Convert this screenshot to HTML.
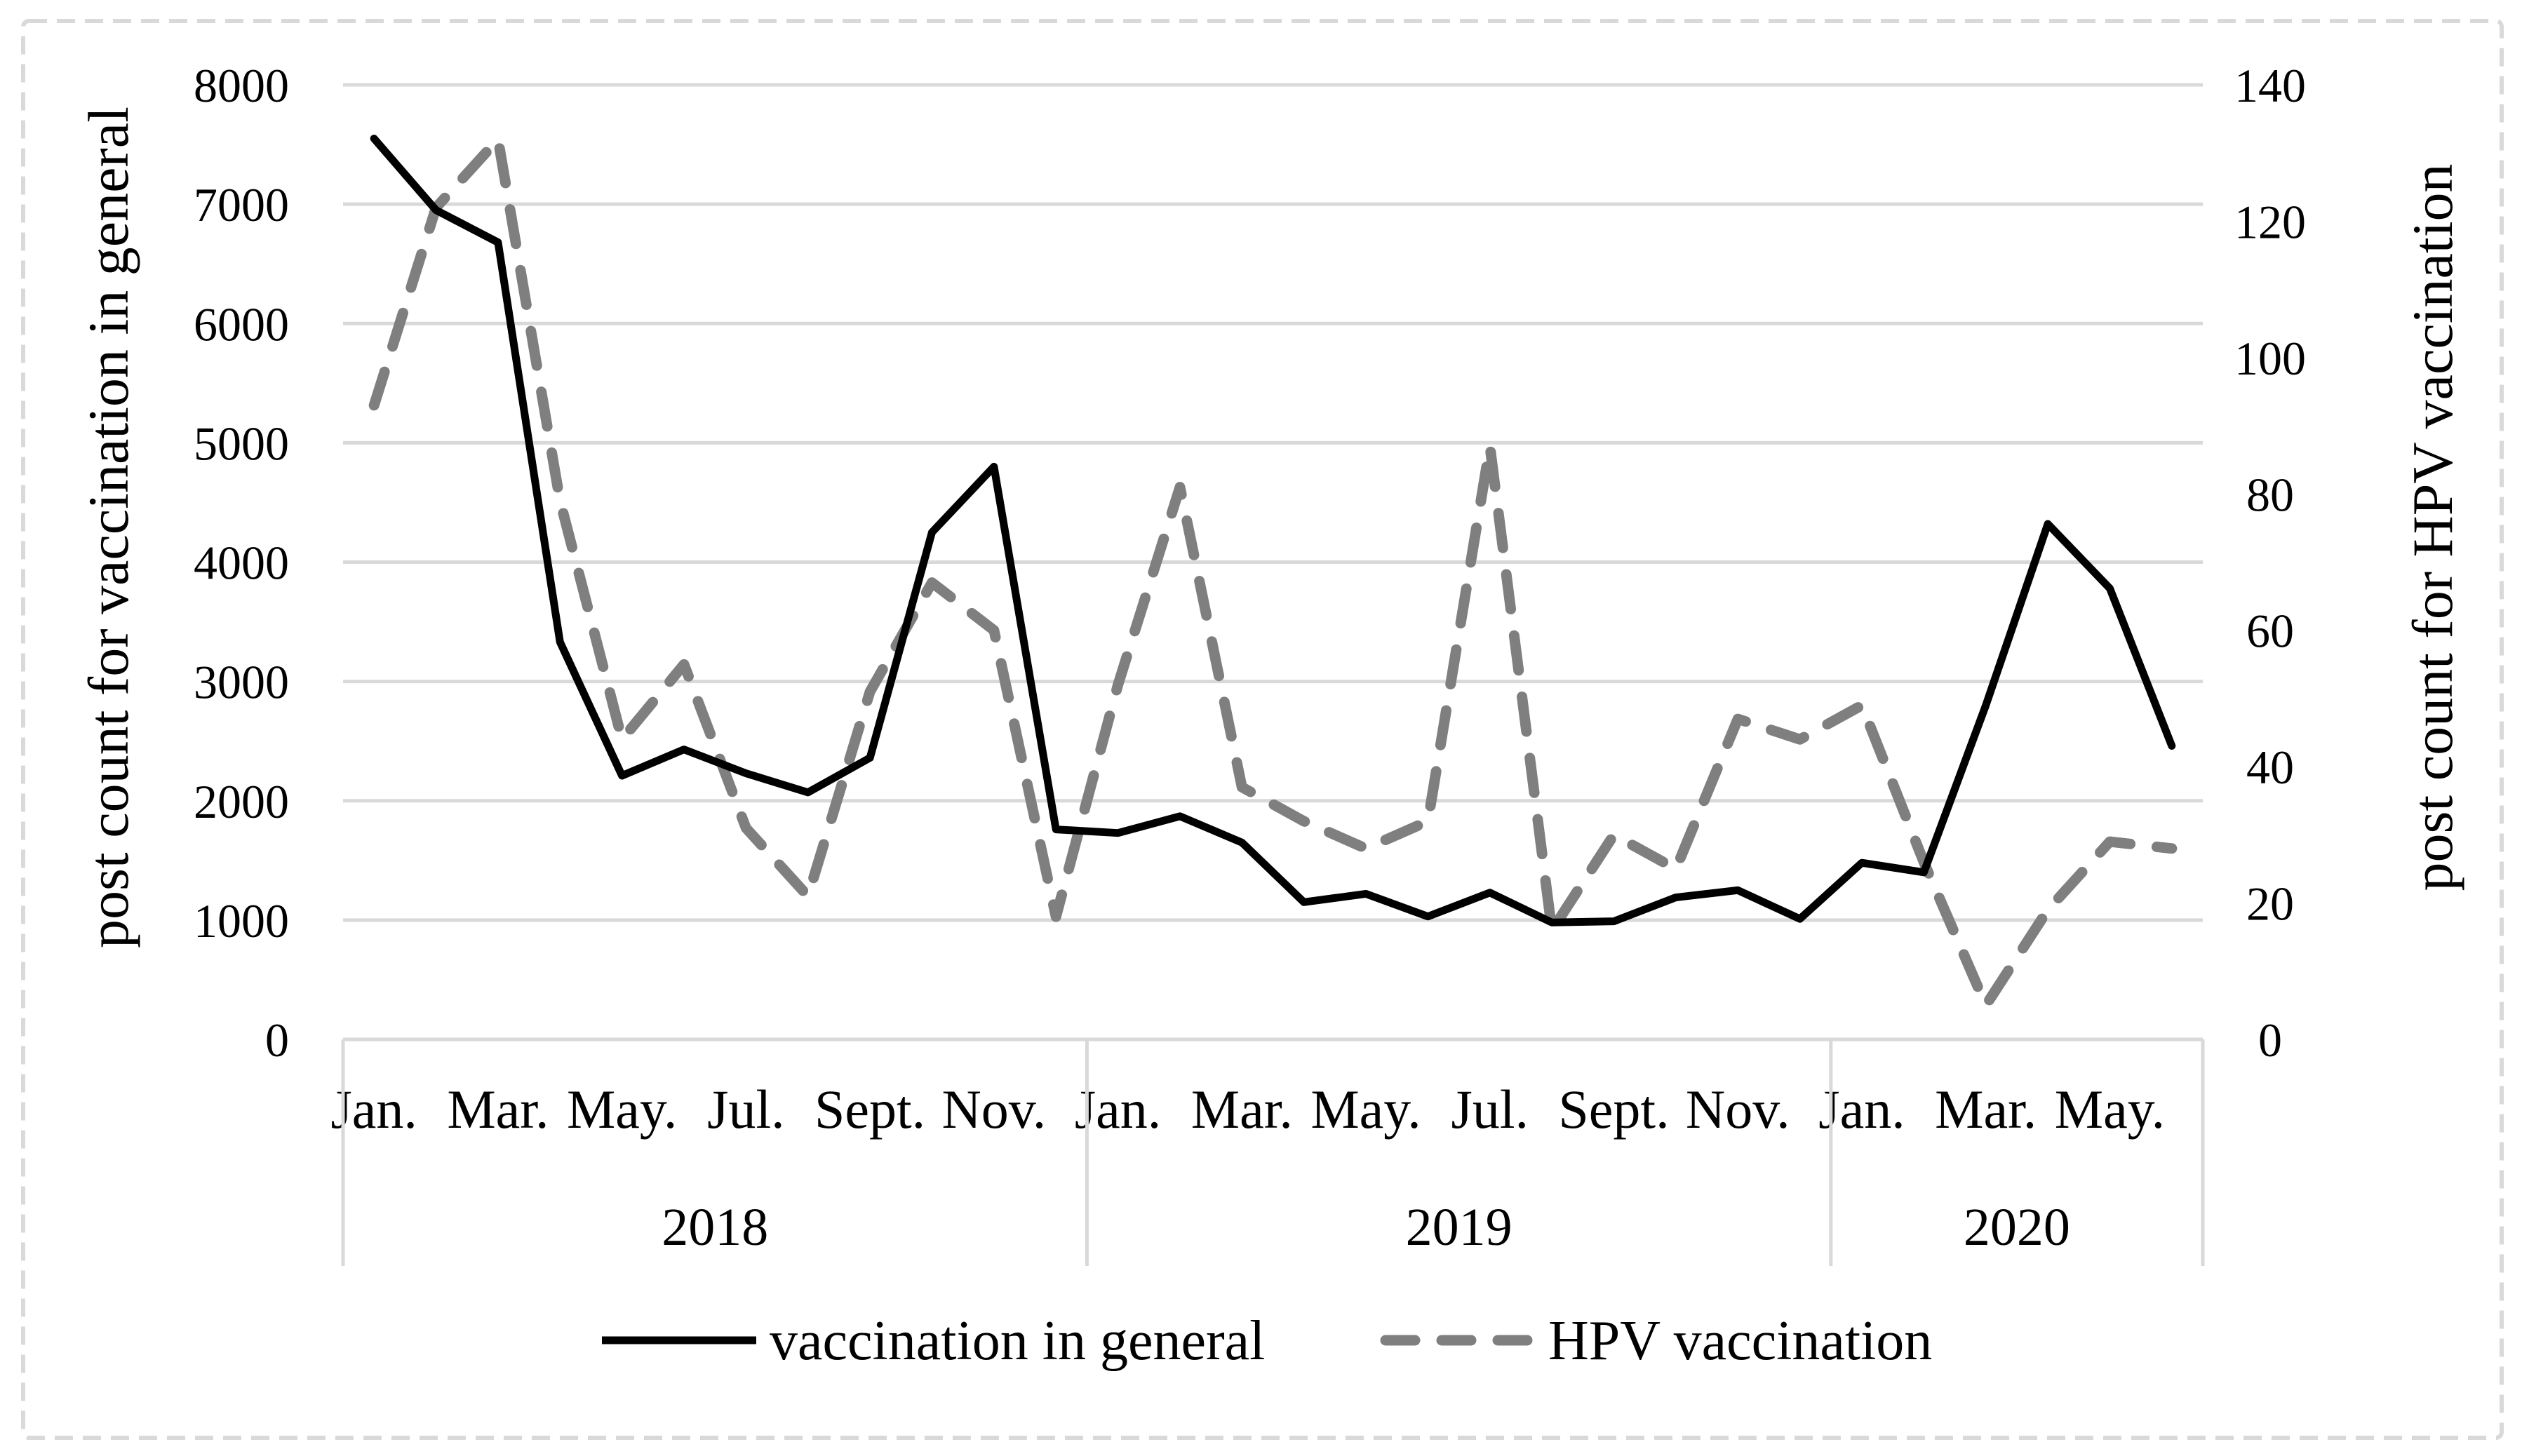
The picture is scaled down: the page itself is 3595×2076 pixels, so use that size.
<!DOCTYPE html>
<html><head><meta charset="utf-8">
<style>
html,body{margin:0;padding:0;background:#fff;}
svg{display:block;font-family:"Liberation Serif",serif;}
</style></head>
<body>
<svg id="chart" width="3595" height="2076" viewBox="0 0 3595 2076" xmlns="http://www.w3.org/2000/svg">
<rect x="33" y="30" width="3533" height="2020" rx="8" fill="none" stroke="#d9d9d9" stroke-width="6" stroke-dasharray="26,14"/>
<g id="grid"></g>
<g id="yleft"></g>
<g id="yright"></g>
<g id="xaxis"></g>
<g id="series"></g>
<text transform="translate(182,752) rotate(-90)" text-anchor="middle" font-size="82">post count for vaccination in general</text>
<text transform="translate(3495,752) rotate(-90)" text-anchor="middle" font-size="82">post count for HPV vaccination</text>
<g>
<g>
<line x1="858" y1="1911" x2="1078" y2="1911" stroke="#000" stroke-width="11"/>
<text x="1097" y="1938" font-size="80">vaccination in general</text>
</g>
<g>
<line x1="1975" y1="1911" x2="2180" y2="1911" stroke="#7f7f7f" stroke-width="15" stroke-linecap="round" stroke-dasharray="42,38"/>
<text x="2207" y="1938" font-size="80">HPV vaccination</text>
</g>
</g>
</svg>
<script>
const months = ["Jan.","Feb.","Mar.","Apr.","May.","Jun.","Jul.","Aug.","Sept.","Oct.","Nov.","Dec.","Jan.","Feb.","Mar.","Apr.","May.","Jun.","Jul.","Aug.","Sept.","Oct.","Nov.","Dec.","Jan.","Feb.","Mar.","Apr.","May.","Jun."];
const years = ["2018","2019","2020"];
const yearCounts = [12,12,6];
const generalValues = [7550,6950,6680,3330,2210,2430,2230,2070,2360,4250,4800,1760,1730,1870,1650,1150,1220,1030,1230,980,990,1190,1250,1010,1480,1400,2800,4320,3780,2460];
const hpvValues = [93,122,132,79,44,55,31,21,51,67,60,18,52,81,37,32,28,32,87,16,30,25,47,44,49,26,5,19,29,28];
const leftTicks = [0,1000,2000,3000,4000,5000,6000,7000,8000];
const rightTicks = [0,20,40,60,80,100,120,140];

const NS="http://www.w3.org/2000/svg";
const L=489,R=3140,T=121,B=1482;
const leftMax=8000,rightMax=140;
const bw=(R-L)/months.length;
const xPos=i=>L+bw*(i+0.5);
const yL=v=>B-(v/leftMax)*(B-T);
const yR=v=>B-(v/rightMax)*(B-T);
function mk(tag,attrs,parent,txt){const e=document.createElementNS(NS,tag);for(const k in attrs)e.setAttribute(k,attrs[k]);if(txt!==undefined)e.textContent=txt;parent.appendChild(e);return e;}

const grid=document.getElementById('grid');
leftTicks.forEach(v=>{
  const l=mk('line',{x1:L,x2:R,y1:yL(v),y2:yL(v),stroke:'#d9d9d9','stroke-width':5},grid);
  
  
});
const yl=document.getElementById('yleft');
leftTicks.forEach(v=>{
  const t=mk('text',{x:412,y:yL(v)+24,'text-anchor':'end','font-size':68},yl,String(v));
  
  
});
const yr=document.getElementById('yright');
rightTicks.forEach(v=>{
  const t=mk('text',{x:3236,y:yR(v)+24,'text-anchor':'middle','font-size':68},yr,String(v));
  
  
});
const xa=document.getElementById('xaxis');
months.forEach((m,i)=>{
  if(i%2!==0)return;
  const t=mk('text',{x:xPos(i),y:1608,'text-anchor':'middle','font-size':78},xa,m);
  
  
});
let start=0;
const sepX=[L];
years.forEach((y,k)=>{
  const x0=L+start*bw, x1=L+(start+yearCounts[k])*bw;
  const t=mk('text',{x:(x0+x1)/2,y:1775,'text-anchor':'middle','font-size':76},xa,y);
  
  
  start+=yearCounts[k];
  sepX.push(x1);
});
sepX.forEach(x=>{
  const l=mk('line',{x1:x,x2:x,y1:B,y2:1805,stroke:'#d9d9d9','stroke-width':5},xa);
  
  
});
const ax=mk('line',{x1:L,x2:R,y1:B,y2:B,stroke:'#d9d9d9','stroke-width':5},xa);



const s=document.getElementById('series');
const hp=mk('polyline',{points:hpvValues.map((v,i)=>xPos(i)+','+yR(v)).join(' '),fill:'none',stroke:'#7f7f7f','stroke-width':15,'stroke-linecap':'round','stroke-linejoin':'round','stroke-dasharray':'50,38'},s);


const gp=mk('polyline',{points:generalValues.map((v,i)=>xPos(i)+','+yL(v)).join(' '),fill:'none',stroke:'#000','stroke-width':11,'stroke-linecap':'round','stroke-linejoin':'round'},s);


</script>
</body></html>
